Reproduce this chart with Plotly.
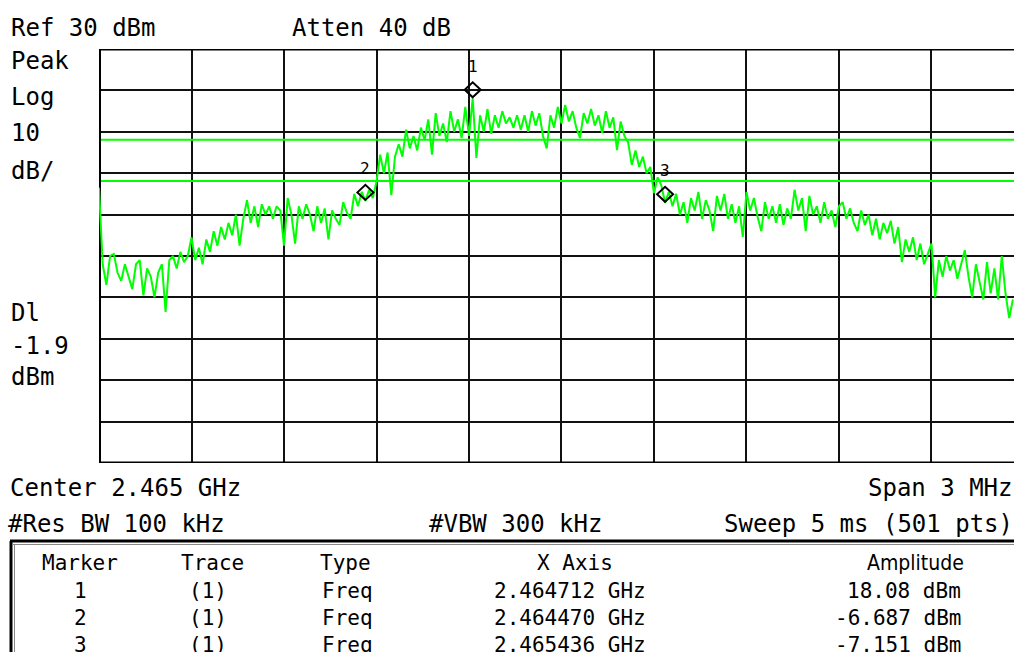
import numpy as np
import plotly.graph_objects as go

# ---------------- data ----------------
ref_level_dbm = 30
db_per_div = 10
n_div_y = 10
center_mhz = 2465.0
span_mhz = 3.0
sweep_step_mhz = 0.012          # every 2nd point of the 501-point sweep
visible_span_mhz = 2.9676       # screen is cropped at the right edge

amplitude_dbm = [
    -3.5, -22, -27, -20, -19.5, -24, -26, -22, -25, -28,
    -22, -21, -29.5, -23, -25, -30, -24, -22, -33.5, -21,
    -20, -23, -19, -21.5, -20, -15.5, -21, -18, -22, -16,
    -19, -14, -17.5, -13, -16, -12, -15, -10, -17.5, -11,
    -6.5, -12, -8, -13, -7.5, -10, -8, -11, -8, -9,
    -17.5, -6, -10, -17, -8, -11, -7.5, -10, -14, -8,
    -12, -8.5, -16, -9, -11, -12.5, -7, -9.5, -11, -5,
    -8, -4.5, -6.687, -4, -6, -2, 4.5, 0, 5, -5.3,
    4, 7, 4, 10.5, 6, 9, 5.5, 11, 8, 13,
    4.5, 14.5, 9, 12, 7.5, 15, 10, 13, 8.5, 16,
    9, 18.08, 3.7, 14, 10, 15.5, 9.5, 14, 11, 15,
    12, 13.5, 11, 14, 10.5, 14, 10, 15, 11.5, 14.5,
    9, 6, 14, 11, 16, 12, 16.5, 12.5, 15, 11,
    8.5, 14.5, 12, 15.5, 11.5, 14, 9.7, 15, 11, 13.5,
    5.6, 12.5, 9, 7.5, 2, 5.5, 1.5, 4, 0, 1.5,
    -4.8, -1, -3, -7.151, -4.5, -8, -5, -10, -7, -12,
    -6, -9, -4.5, -11, -6.5, -9, -14, -5.5, -9, -5,
    -11, -7.5, -12, -8, -15.4, -4.5, -9, -6, -10.5, -14,
    -7, -11, -8, -12, -7.5, -12.5, -8.5, -11, -4, -9,
    -6, -14, -5.5, -10, -8, -12, -7, -11, -9, -13,
    -8, -7, -11, -8.5, -12, -14, -9, -12.5, -10, -15,
    -11, -16, -12, -14.5, -11.5, -17, -13, -21.5, -16, -19,
    -15.5, -21, -17, -22, -19.5, -17, -30, -21, -25, -20,
    -23.5, -21, -25.5, -22, -18.6, -25, -30, -22, -26, -30.5,
    -21.5, -29, -23, -30.5, -20, -29, -35, -30.5,
]

display_line_dbm = -1.9
threshold_line_dbm = 8.08

marker_names = ["1", "2", "3"]
marker_point_index = [101, 72, 153]   # where the diamonds sit on screen

table_header = ["Marker", "Trace", "Type", "X Axis", "Amplitude"]
table_trace = ["(1)", "(1)", "(1)"]
table_type = ["Freq", "Freq", "Freq"]
table_xaxis = ["2.464712 GHz", "2.464470 GHz", "2.465436 GHz"]
table_amp = ["18.08 dBm", "-6.687 dBm", "-7.151 dBm"]

# ---------------- layout constants (pixels) ----------------
W, H = 1014, 652
GL, GT, GB = 99, 49, 463

start_mhz = center_mhz - span_mhz / 2
freq_mhz = start_mhz + sweep_step_mhz * np.arange(len(amplitude_dbm))
x_end = start_mhz + visible_span_mhz
y_bot = ref_level_dbm - db_per_div * n_div_y

GREEN = "#00ff00"
MONO = "DejaVu Sans Mono"
COND = "DejaVu Sans Condensed"

fig = go.Figure()
fig.add_trace(go.Scatter(
    x=freq_mhz, y=amplitude_dbm, mode="lines",
    line=dict(color=GREEN, width=2), hoverinfo="skip", showlegend=False,
))

fig.update_layout(
    width=W, height=H,
    margin=dict(l=0, r=0, t=0, b=0),
    paper_bgcolor="white", plot_bgcolor="white",
    xaxis=dict(range=[start_mhz, x_end], domain=[GL / W, 1.0],
               tick0=start_mhz, dtick=span_mhz / 10, showgrid=True,
               gridcolor="#111111", gridwidth=2, showticklabels=False,
               zeroline=False, ticks="", showline=False, fixedrange=True),
    yaxis=dict(range=[y_bot, ref_level_dbm], domain=[1 - GB / H, 1 - GT / H],
               tick0=y_bot, dtick=db_per_div, showgrid=True,
               gridcolor="#111111", gridwidth=2, showticklabels=False,
               zeroline=False, ticks="", showline=False, fixedrange=True),
)

shapes = []
# display / threshold lines
for lv in (threshold_line_dbm, display_line_dbm):
    shapes.append(dict(type="line", xref="x", yref="y", x0=start_mhz, x1=x_end,
                       y0=lv, y1=lv, line=dict(color=GREEN, width=2), layer="between"))
# thick borders
shapes.append(dict(type="line", xref="x", yref="y", x0=start_mhz, x1=start_mhz,
                   y0=y_bot, y1=ref_level_dbm, line=dict(color="black", width=4), layer="between"))
shapes.append(dict(type="line", xref="x", yref="y", x0=start_mhz, x1=x_end,
                   y0=ref_level_dbm, y1=ref_level_dbm, line=dict(color="black", width=3), layer="between"))
shapes.append(dict(type="line", xref="x", yref="y", x0=start_mhz, x1=x_end,
                   y0=y_bot, y1=y_bot, line=dict(color="black", width=3), layer="between"))
# marker diamonds
for idx in marker_point_index:
    shapes.append(dict(type="path", xref="x", yref="y", xsizemode="pixel", ysizemode="pixel",
                       xanchor=float(freq_mhz[idx]), yanchor=float(amplitude_dbm[idx]),
                       path="M 0 1 L 8 8.5 L 0 16 L -8 8.5 Z",
                       line=dict(color="black", width=2), fillcolor="rgba(0,0,0,0)",
                       layer="above"))
# table frame (double line look)
TY = 541
shapes.append(dict(type="line", xref="paper", yref="paper", x0=10 / W, x1=1.0,
                   y0=1 - TY / H, y1=1 - TY / H, line=dict(color="black", width=3)))
shapes.append(dict(type="line", xref="paper", yref="paper", x0=13 / W, x1=1.0,
                   y0=1 - (TY + 3.5) / H, y1=1 - (TY + 3.5) / H, line=dict(color="#888888", width=1)))
shapes.append(dict(type="line", xref="paper", yref="paper", x0=11 / W, x1=11 / W,
                   y0=1 - TY / H, y1=0, line=dict(color="black", width=3)))
shapes.append(dict(type="line", xref="paper", yref="paper", x0=14.5 / W, x1=14.5 / W,
                   y0=1 - (TY + 3) / H, y1=0, line=dict(color="#888888", width=1)))
fig.update_layout(shapes=shapes)

ann = []

def txt(s, x, y, anchor="left", size=24, family=MONO):
    ann.append(dict(text=s, x=x / W, y=1 - y / H, xref="paper", yref="paper",
                    xanchor=anchor, yanchor="middle", showarrow=False,
                    font=dict(family=family, size=size, color="black")))

txt("Ref 30 dBm", 9, 28)
txt("Atten 40 dB", 290, 28)
for s, y in [("Peak", 61), ("Log", 97), ("10", 133), ("dB/", 171),
             ("Dl", 313), ("-1.9", 346), ("dBm", 377)]:
    txt(s, 9, y)
txt("Center 2.465 GHz", 8, 488)
txt("Span 3 MHz", 1015, 488, anchor="right")
txt("#Res BW 100 kHz", 6, 524)
txt("#VBW 300 kHz", 427, 524)
txt("Sweep 5 ms (501 pts)", 1015, 524, anchor="right")

# table
tsz = 21
txt(table_header[0], 80, 563, "center", tsz)
txt(table_header[1], 212, 563, "center", tsz)
txt(table_header[2], 318, 563, "left", tsz)
txt(table_header[3], 575, 563, "center", tsz)
txt(table_header[4], 966, 563, "right", tsz, COND)
for k, yy in enumerate([591, 618, 645]):
    txt(marker_names[k], 80, yy, "center", tsz)
    txt(table_trace[k], 208, yy, "center", tsz)
    txt(table_type[k], 320, yy, "left", tsz)
    txt(table_xaxis[k], 570, yy, "center", tsz)
    txt(table_amp[k], 963, yy, "right", tsz)

# marker number labels
for name, idx in zip(marker_names, marker_point_index):
    ann.append(dict(text=name, x=float(freq_mhz[idx]), y=float(amplitude_dbm[idx]),
                    xref="x", yref="y", yshift=32, showarrow=False,
                    xanchor="center", yanchor="middle",
                    font=dict(family=MONO, size=16, color="black")))

fig.update_layout(annotations=ann)
fig.write_html("out.html", config={"displayModeBar": False},
               post_script="document.body.style.margin='0';document.body.style.overflow='hidden';")
